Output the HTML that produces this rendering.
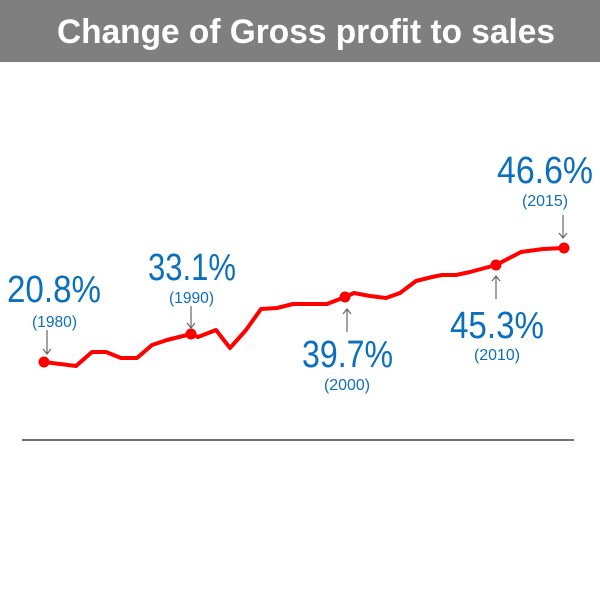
<!DOCTYPE html>
<html><head><style>
body{margin:0;width:600px;height:600px;background:#fff;overflow:hidden}
</style></head><body>
<svg width="600" height="600" xmlns="http://www.w3.org/2000/svg" font-family="Liberation Sans, sans-serif">
<rect x="0" y="0" width="600" height="62" fill="#7f7f7f"/>
<text x="306" y="43" text-anchor="middle" fill="#fff" font-size="34" font-weight="bold" textLength="498" lengthAdjust="spacingAndGlyphs">Change of Gross profit to sales</text>
<line x1="22" y1="440" x2="574" y2="440" stroke="#707070" stroke-width="2"/>
<polyline fill="none" stroke="#f00" stroke-width="4" stroke-linejoin="round" points="44,362 76,366 92,352 106,352 121,358 137,358 152,345 167,340 191,334 198,337 216,330 230,348 246,330 261,309 277,308 293,304 309,304 327,304 345,297 354,293 370,296 386,298 400,293 416,281 432,277 442,275 456,275 470,272 496,265 521,252 543,249 564,248"/>
<g fill="#f00"><circle cx="44" cy="362" r="5.5"/><circle cx="191" cy="334" r="5.5"/><circle cx="345" cy="297" r="5.5"/><circle cx="496" cy="265" r="5.5"/><circle cx="564" cy="248" r="5.5"/></g>
<g stroke="#666" stroke-width="1.2" fill="none">
<path d="M47,330V354M43,349L47,354L51,349"/>
<path d="M191,306V328M187,323L191,328L195,323"/>
<path d="M347,332V309M343,314L347,309L351,314"/>
<path d="M496,299V276M492,281L496,276L500,281"/>
<path d="M563,215V238M559,233L563,238L567,233"/>
</g>
<g fill="#0b6fbd">
<text x="7" y="302" font-size="38" textLength="94" lengthAdjust="spacingAndGlyphs">20.8%</text>
<text x="32" y="327" font-size="16" textLength="45" lengthAdjust="spacingAndGlyphs">(1980)</text>
<text x="148" y="280" font-size="38" textLength="88" lengthAdjust="spacingAndGlyphs">33.1%</text>
<text x="169" y="303" font-size="16" textLength="45" lengthAdjust="spacingAndGlyphs">(1990)</text>
<text x="302" y="367" font-size="38" textLength="91" lengthAdjust="spacingAndGlyphs">39.7%</text>
<text x="324" y="390" font-size="16" textLength="46" lengthAdjust="spacingAndGlyphs">(2000)</text>
<text x="450" y="338" font-size="38" textLength="94" lengthAdjust="spacingAndGlyphs">45.3%</text>
<text x="474" y="360" font-size="16" textLength="46" lengthAdjust="spacingAndGlyphs">(2010)</text>
<text x="497" y="183" font-size="38" textLength="96" lengthAdjust="spacingAndGlyphs">46.6%</text>
<text x="522" y="206" font-size="16" textLength="46" lengthAdjust="spacingAndGlyphs">(2015)</text>
</g>
</svg>
</body></html>
